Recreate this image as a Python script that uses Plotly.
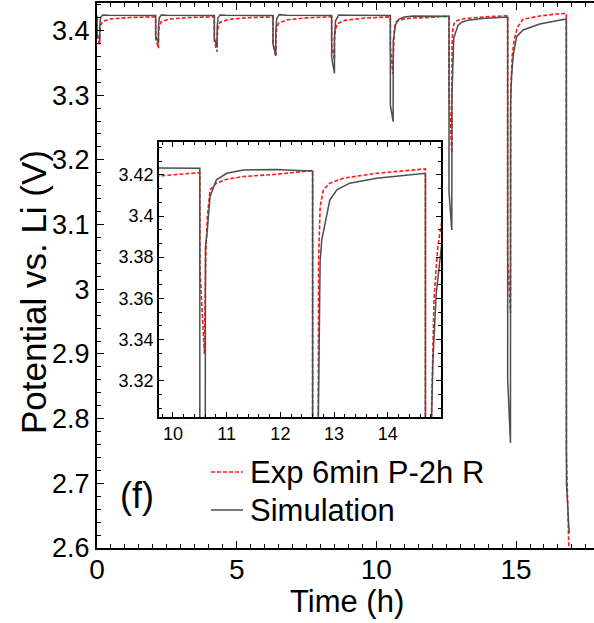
import plotly.graph_objects as go

# ---------------- data ----------------
# Simulation (grey solid)
sim_t = [0.00, 0.00, 0.10, 0.10, 0.13, 0.20, 0.40, 2.10,
         2.10, 2.20, 2.20, 2.23, 2.30, 2.50, 4.20,
         4.20, 4.30, 4.30, 4.33, 4.40, 4.60, 6.30,
         6.30, 6.40, 6.40, 6.43, 6.52, 6.80, 8.40,
         8.40, 8.50, 8.50, 8.54, 8.65, 9.00, 10.50,
         10.50, 10.60, 10.605, 10.64, 10.69, 10.81, 11.00, 11.31, 11.93, 12.30, 12.60,
         12.60, 12.70, 12.705, 12.74, 12.77, 12.92, 13.05, 13.29, 13.79, 14.41, 14.70,
         14.70, 14.80, 14.805, 14.84, 14.90, 15.02, 15.25, 15.85, 16.45, 16.80,
         16.80, 16.805, 16.90]
sim_v = [3.4232, 3.3950, 3.3853, 3.4080, 3.4200, 3.4240, 3.4234, 3.4232,
         3.3920, 3.3800, 3.4060, 3.4195, 3.4240, 3.4234, 3.4232,
         3.3880, 3.3750, 3.4040, 3.4190, 3.4240, 3.4235, 3.4232,
         3.3790, 3.3621, 3.3980, 3.4180, 3.4245, 3.4236, 3.4232,
         3.3580, 3.3338, 3.3900, 3.4150, 3.4240, 3.4236, 3.4232,
         3.2850, 3.2590, 3.3850, 3.3932, 3.4094, 3.4176, 3.4208, 3.4224, 3.4226, 3.4222, 3.4219,
         3.1500, 3.0916, 3.3000, 3.3780, 3.3884, 3.4078, 3.4127, 3.4160, 3.4184, 3.4200, 3.4208,
         2.8600, 2.7623, 3.2900, 3.3300, 3.3620, 3.3904, 3.4008, 3.4100, 3.4151, 3.4178,
         3.3500, 2.7000, 2.6232]

# Experiment "Exp 6min P-2h R" (red dashed)
exp_t = [0.00, 0.00, 0.10, 0.10, 0.13, 0.20, 0.50, 1.20, 2.10,
         2.10, 2.20, 2.20, 2.23, 2.30, 2.60, 3.30, 4.20,
         4.20, 4.30, 4.30, 4.33, 4.40, 4.70, 5.40, 6.30,
         6.30, 6.40, 6.40, 6.43, 6.50, 6.80, 7.50, 8.40,
         8.40, 8.50, 8.50, 8.53, 8.60, 8.90, 9.60, 10.50,
         10.50, 10.585, 10.61, 10.64, 10.69, 10.81, 11.00, 11.31, 11.93, 12.60,
         12.60, 12.70, 12.71, 12.74, 12.80, 12.92, 13.17, 13.79, 14.70,
         14.70, 14.80, 14.81, 14.86, 14.93, 14.99, 15.05, 15.25, 15.85, 16.45, 16.80,
         16.80, 16.90]
exp_v = [3.4211, 3.3900, 3.3776, 3.3950, 3.4080, 3.4140, 3.4180, 3.4200, 3.4211,
         3.3870, 3.3725, 3.3930, 3.4070, 3.4135, 3.4178, 3.4200, 3.4211,
         3.3830, 3.3672, 3.3900, 3.4050, 3.4125, 3.4172, 3.4198, 3.4211,
         3.3800, 3.3595, 3.3880, 3.4030, 3.4115, 3.4165, 3.4195, 3.4211,
         3.3780, 3.3544, 3.3850, 3.4010, 3.4105, 3.4160, 3.4192, 3.4211,
         3.3754, 3.3330, 3.3802, 3.3997, 3.4127, 3.4160, 3.4179, 3.4192, 3.4203, 3.4221,
         3.3000, 3.2106, 3.3770, 3.4046, 3.4127, 3.4160, 3.4184, 3.4208, 3.4229,
         3.0500, 2.9633, 3.3000, 3.3600, 3.3850, 3.3950, 3.4050, 3.4173, 3.4224, 3.4255, 3.4264,
         2.7500, 2.5800]

main_xticks = [0, 5, 10, 15]
main_yticks = [2.6, 2.7, 2.8, 2.9, 3.0, 3.1, 3.2, 3.3, 3.4]
main_yticktext = ["2.6", "2.7", "2.8", "2.9", "3", "3.1", "3.2", "3.3", "3.4"]
inset_xticks = [10, 11, 12, 13, 14]
inset_yticks = [3.32, 3.34, 3.36, 3.38, 3.40, 3.42]
inset_yticktext = ["3.32", "3.34", "3.36", "3.38", "3.4", "3.42"]

legend_labels = ["Exp 6min P-2h R", "Simulation"]

RED = "#ff1a1a"
GREY = "#4d4d4d"
FONT = "Liberation Sans"

# ---------------- geometry ----------------
W, H = 594, 623
ML, MR, MT, MB = 97, 0, 3, 75
PW, PH = W - ML - MR, H - MT - MB


def px2paper_x(px):
    return (px - ML) / PW


def px2paper_y(py):
    return (H - MB - py) / PH


fig = go.Figure()
for xa, ya in (("x", "y"), ("x2", "y2")):
    fig.add_trace(go.Scatter(x=exp_t, y=exp_v, mode="lines", xaxis=xa, yaxis=ya,
                             line=dict(color=RED, width=1.6, dash="4px,2px"),
                             showlegend=False, hoverinfo="skip"))
    fig.add_trace(go.Scatter(x=sim_t, y=sim_v, mode="lines", xaxis=xa, yaxis=ya,
                             line=dict(color=GREY, width=1.5),
                             showlegend=False, hoverinfo="skip"))

axis_common = dict(showgrid=False, zeroline=False, showline=True, linecolor="black",
                   ticks="inside", tickcolor="black")

fig.update_layout(
    width=W, height=H,
    margin=dict(l=ML, r=MR, t=MT, b=MB),
    paper_bgcolor="white", plot_bgcolor="white",
    font=dict(family=FONT, color="black"),
    xaxis=dict(range=[0, 17.79], tickvals=main_xticks, ticklen=7, tickwidth=1.2,
               linewidth=2, mirror="ticks", tickfont=dict(size=28), ticklabelstandoff=-5,
               minor=dict(dtick=0.5, tick0=0, ticklen=4, ticks="inside", tickcolor="black"),
               **axis_common),
    yaxis=dict(range=[2.6, 3.4425], tickvals=main_yticks, ticktext=main_yticktext,
               ticklen=7, tickwidth=1.2, linewidth=2, mirror=False, tickfont=dict(size=27),
               minor=dict(dtick=0.02, tick0=2.6, ticklen=4, ticks="inside", tickcolor="black"),
               **axis_common),
    xaxis2=dict(domain=[px2paper_x(159), px2paper_x(441)], anchor="y2",
                range=[9.74, 14.99], tickvals=inset_xticks, ticklen=5, linewidth=1.6,
                mirror="ticks", tickfont=dict(size=18),
                minor=dict(dtick=0.2, tick0=10, ticklen=3, ticks="inside", tickcolor="black"),
                **axis_common),
    yaxis2=dict(domain=[px2paper_y(417), px2paper_y(142)], anchor="x2",
                range=[3.3023, 3.436], tickvals=inset_yticks, ticktext=inset_yticktext,
                ticklen=5, linewidth=1.6, mirror="ticks", tickfont=dict(size=18),
                minor=dict(dtick=0.02 / 3, tick0=3.32, ticklen=3, ticks="inside", tickcolor="black"),
                **axis_common),
)

# legend samples
fig.add_shape(type="line", xref="paper", yref="paper",
              x0=px2paper_x(211), x1=px2paper_x(243), y0=px2paper_y(472), y1=px2paper_y(472),
              line=dict(color=RED, width=1.6, dash="4px,2px"))
fig.add_shape(type="line", xref="paper", yref="paper",
              x0=px2paper_x(211), x1=px2paper_x(243), y0=px2paper_y(510), y1=px2paper_y(510),
              line=dict(color=GREY, width=1.5))
for lab, py in zip(legend_labels, (472, 510)):
    fig.add_annotation(text=lab, xref="paper", yref="paper", x=px2paper_x(248), y=px2paper_y(py),
                       xanchor="left", yanchor="middle", showarrow=False,
                       font=dict(size=31, family=FONT))

fig.add_annotation(text="(f)", xref="paper", yref="paper", x=px2paper_x(137), y=px2paper_y(495),
                   xanchor="center", yanchor="middle", showarrow=False, font=dict(size=36, family=FONT))

fig.add_annotation(text="Time (h)", xref="paper", yref="paper", x=px2paper_x(347), y=px2paper_y(601),
                   xanchor="center", yanchor="middle", showarrow=False, font=dict(size=31, family=FONT))
fig.add_annotation(text="Potential vs. Li (V)", xref="paper", yref="paper", x=px2paper_x(33),
                   y=px2paper_y(292), xanchor="center", yanchor="middle", textangle=-90,
                   showarrow=False, font=dict(size=35, family=FONT))

fig.write_html("out.html")
